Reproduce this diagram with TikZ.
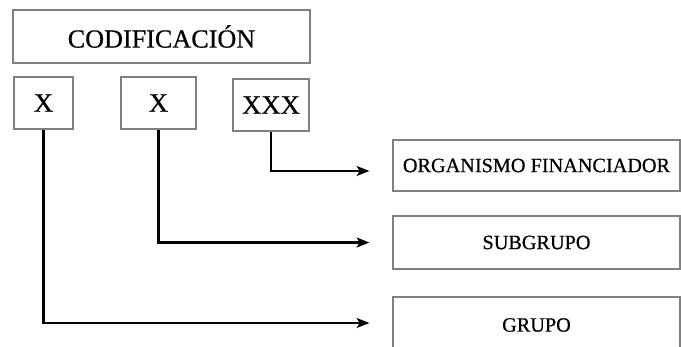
\documentclass[tikz,border=0pt]{standalone}
\usepackage{fontspec}
\setmainfont{Liberation Serif}
\newfontfamily\boxfont{Liberation Serif}[FakeBold=0.6]
\usepackage{tikz}
\usetikzlibrary{arrows.meta}

\begin{document}
\begin{tikzpicture}[x=0.025cm,y=-0.025cm]
\tikzset{>={Stealth[length=9pt,width=7pt,inset=2pt]}}
\tikzstyle{box} =[draw=black!50,line width=0.8pt,inner sep=0pt]
\tikzstyle{code} =[box,font=\boxfont\fontsize{19}{21}\selectfont]
\tikzstyle{field} =[box,font=\boxfont\fontsize{14.4}{16}\selectfont,minimum width=287*0.025cm]
\clip (0,0) rectangle (681,347);

\node[box,font=\boxfont\fontsize{18.6}{20}\selectfont,minimum width=297*0.025cm,minimum height=53*0.025cm](cod) at (161.5,36.5){CODIFICACIÓN};
\node[code,minimum width=59*0.025cm,minimum height=52*0.025cm](x1) at (43.5,103){X};
\node[code,minimum width=75*0.025cm,minimum height=52*0.025cm](x2) at (158.5,103){X};
\node[code,minimum width=76*0.025cm,minimum height=52*0.025cm](x3) at (271,105){XXX};

\node[field,minimum height=51*0.025cm](org) at (536.5,165.5){ORGANISMO FINANCIADOR};
\node[field,minimum height=53*0.025cm](sub) at (536.5,242.5){SUBGRUPO};
\node[field,minimum height=56*0.025cm](gru) at (536.5,325){GRUPO};

\draw [->,line width=1.7pt] (x3.south) |- ([shift={(-23,5.5)}]org.west);
\draw [->,line width=1.7pt] (x2.south) |- ([xshift=-23*0.025cm]sub.west);
\draw [->,line width=1.7pt] (x1.south) |- ([shift={(-23,-2)}]gru.west);
\end{tikzpicture}
\end{document}
